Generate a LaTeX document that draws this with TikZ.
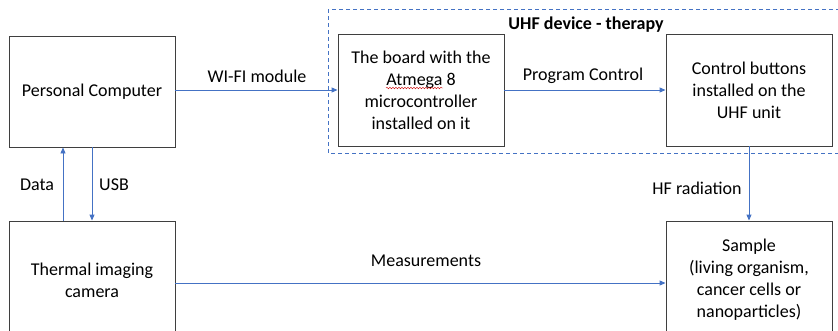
\documentclass[tikz,border=0pt]{standalone}
\usepackage{fontspec}
\setmainfont{Carlito}
\usetikzlibrary{arrows.meta,decorations.pathmorphing}
\definecolor{linkblue}{HTML}{4472C4}
\definecolor{boxgray}{HTML}{3F3F3F}
\begin{document}
\begin{tikzpicture}[x=1pt,y=-1pt,
  font=\fontsize{18}{22}\selectfont,
  blockbox/.style={draw=boxgray,line width=0.9pt,fill=white,align=center,inner sep=0pt},
  arr/.style={draw=linkblue,line width=0.9pt,-{Triangle[length=6pt,width=5pt]}},
  lbl/.style={inner sep=0pt,text=black}]
\useasboundingbox (0,0) rectangle (838,330);
% dashed group
\draw[linkblue,line width=0.9pt,dash pattern=on 4pt off 3pt] (328,9) rectangle (860,153);
\node[lbl,font=\fontsize{18}{22}\selectfont\bfseries] (grp) at (586,25) {UHF device - therapy};
% boxes
\node[blockbox,minimum width=166pt,minimum height=111pt] (pc) at (92,91.5) {Personal Computer};
\node[blockbox,minimum width=166pt,minimum height=112pt] (board) at (421,90) {The board with the\\Atmega 8\\microcontroller\\installed on it};
\node[blockbox,minimum width=166pt,minimum height=112pt] (ctrl) at (749,90) {Control buttons\\installed on the\\UHF unit};
\node[blockbox,minimum width=166pt,minimum height=118pt] (cam) at (92,280) {Thermal imaging\\camera};
\node[blockbox,minimum width=166pt,minimum height=118pt] (sample) at (749,280) {Sample\\(living organism,\\cancer cells or\\nanoparticles)};
% spell-check squiggle under "Atmega"
\coordinate (sq1) at (386,88);
\coordinate (sq2) at (443,88);
\draw[red!80!black,line width=0.4pt,decorate,decoration={snake,amplitude=0.8pt,segment length=3pt}] (sq1) -- (sq2);
% connectors
\draw[arr] (pc.east |- board.west) -- (board.west);
\draw[arr] (board.east) -- (ctrl.west);
\draw[arr] (ctrl.south) -- (sample.north);
\draw[arr] ([xshift=-29pt]cam.north) -- ([xshift=-29pt]pc.south);
\draw[arr] (pc.south) -- (cam.north);
\draw[arr] ([yshift=-3pt]cam.east) -- ([yshift=-3pt]sample.west);
% labels
\node[lbl] (lwifi) at (257,76) {WI-FI module};
\node[lbl] (lprog) at (583,76) {Program Control};
\node[lbl] (lhf) at (697,188) {HF radiation};
\node[lbl] (ldata) at (37,185) {Data};
\node[lbl] (lusb) at (114,185) {USB};
\node[lbl] (lmeas) at (426,261) {Measurements};
\end{tikzpicture}
\end{document}
